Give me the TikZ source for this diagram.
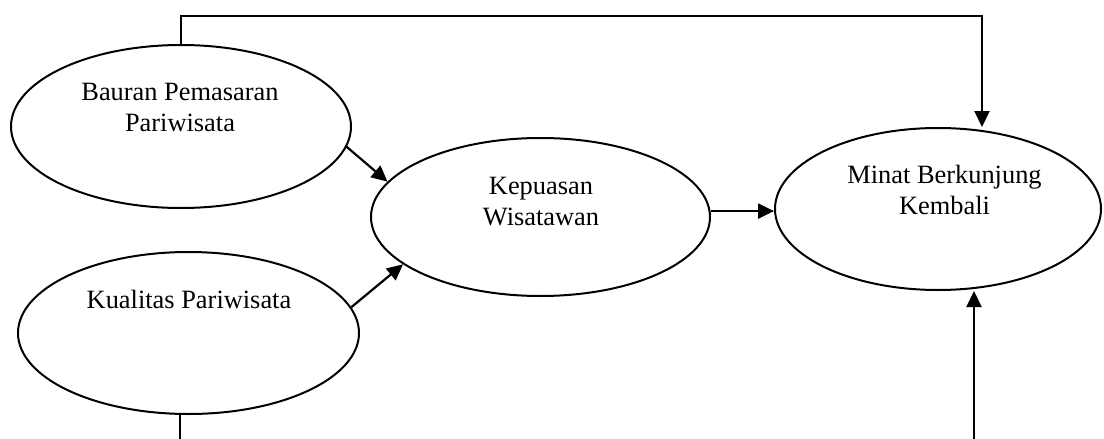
\documentclass[tikz,border=0pt]{standalone}
\usepackage{fontspec}
\setmainfont{Liberation Serif}
\usetikzlibrary{arrows.meta,shapes.geometric}
\tikzset{
  ell/.style={draw, ellipse, line width=2pt, inner sep=0pt},
  lbl/.style={align=center, inner sep=0pt, anchor=base, font=\fontsize{26.4}{31}\selectfont},
  conn/.style={line width=2.2pt},
  arr/.style={line width=2.2pt, -{Triangle[length=16pt,width=15pt]}}
}
\begin{document}
\begin{tikzpicture}[x=1pt,y=-1pt]
\fill[white] (0,0) rectangle (1104,439);
\useasboundingbox (0,0) rectangle (1104,439);
% ellipses
\node[ell, minimum width=340pt, minimum height=163pt] (bp) at (181,126.5) {};
\node[ell, minimum width=341pt, minimum height=162pt] (kp) at (188.5,333) {};
\node[ell, minimum width=339pt, minimum height=158pt] (kw) at (540.5,217) {};
\node[ell, minimum width=326pt, minimum height=162pt] (mb) at (938,209) {};
% labels (base = last line)
\node[lbl] (bpt) at (180,131) {Bauran Pemasaran\\Pariwisata};
\node[lbl] (kpt) at (189,308) {Kualitas Pariwisata};
\node[lbl] (kwt) at (541,225) {Kepuasan\\Wisatawan};
\node[lbl] (mbt) at (944.5,214) {Minat Berkunjung\\Kembali};
% free ends
\coordinate (tr) at (982,15.7);
\coordinate (bl) at (180,439);
\coordinate (br) at (974,439);
% connectors
\draw[arr] (bp.north) |- (tr) -- (mb.north -| tr);
\draw[conn] (kp.south -| bl) -- (bl);
\draw[arr] (br) -- (mb.south -| br);
\draw[arr] (bp.-7.6) -- (kw.167.7);
\draw[arr] (kp.9.3) -- (kw.199.2);
\draw[arr] (kw.2.4) -- (kw.2.4 -| mb.west);
\end{tikzpicture}
\end{document}
